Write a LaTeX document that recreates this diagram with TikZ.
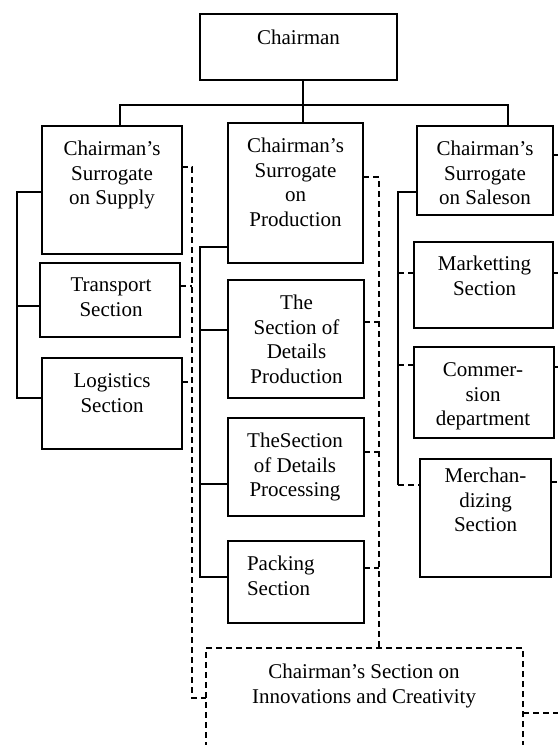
\documentclass[tikz,border=0pt]{standalone}
\usepackage{fontspec}
\setmainfont{Liberation Serif}
\begin{document}
\begin{tikzpicture}[x=1pt,y=-1pt,line width=1.5pt,
  box/.style={draw, rectangle, inner sep=0pt, outer sep=0pt},
  txt/.style={inner sep=0pt, outer sep=0pt, align=center, anchor=north,
              font=\fontsize{21}{24.5}\selectfont},
  dsh/.style={dash pattern=on 6pt off 4pt}]
\useasboundingbox (0,0) rectangle (558,745);
\clip (0,0) rectangle (558,745);

% ---------- boxes ----------
\node[box, minimum width=197pt, minimum height=66pt]  (chair)     at (298.5,47)  {};
\node[box, minimum width=140pt, minimum height=128pt] (supply)    at (112,190)   {};
\node[box, minimum width=135pt, minimum height=140pt] (prod)      at (295.5,193) {};
\node[box, minimum width=136pt, minimum height=89pt]  (sales)     at (485,170.5) {};
\node[box, minimum width=140pt, minimum height=74pt]  (transport) at (110,300)   {};
\node[box, minimum width=140pt, minimum height=91pt]  (logistics) at (112,403.5) {};
\node[box, minimum width=136pt, minimum height=118pt] (detprod)   at (296,339)   {};
\node[box, minimum width=136pt, minimum height=98pt]  (detproc)   at (296,467)   {};
\node[box, minimum width=136pt, minimum height=82pt]  (packing)   at (296,582)   {};
\node[box, minimum width=139pt, minimum height=86pt]  (market)    at (483.5,285) {};
\node[box, minimum width=140pt, minimum height=91pt]  (commerce)  at (484,392.5) {};
\node[box, minimum width=131pt, minimum height=118pt] (merch)     at (485.5,518) {};
\node[box, dsh, minimum width=317pt, minimum height=152pt] (innov) at (364.5,724) {};

% ---------- labels ----------
\node[txt] (chairT)     at (298.5,30) {Chairman};
\node[txt] (supplyT)    at (112,141)  {Chairman’s\\Surrogate\\on Supply};
\node[txt] (prodT)      at (295.5,138) {Chairman’s\\Surrogate\\on\\Production};
\node[txt] (salesT)     at (485,141)  {Chairman’s\\Surrogate\\on Saleson};
\node[txt] (transportT) at (111,278)  {Transport\\Section};
\node[txt] (logisticsT) at (112,374)  {Logistics\\Section};
\node[txt] (detprodT)   at (296.5,295) {The\\Section of\\Details\\Production};
\node[txt] (detprocT)   at (295,433)  {TheSection\\of Details\\Processing};
\node[txt, anchor=north west, align=left] (packingT) at (247,556) {Packing\\Section};
\node[txt] (marketT)    at (484.5,256) {Marketting\\Section};
\node[txt] (commerceT)  at (483,363)  {Commer-\\sion\\department};
\node[txt] (merchT)     at (485.5,468) {Merchan-\\dizing\\Section};
\node[txt] (innovT)     at (364,664)  {Chairman’s Section on\\Innovations and Creativity};

% ---------- top bus ----------
\coordinate (busL) at (120,105);
\coordinate (busM) at (303,105);
\coordinate (busR) at (508,105);
\draw (busL |- supply.north) -- (busL) -- (busR) -- (busR |- sales.north);
\draw (busM |- chair.south) -- (busM |- prod.north);

% ---------- supply branch ----------
\coordinate (sA) at (17,192);
\coordinate (sB) at (17,306);
\coordinate (sC) at (17,398);
\draw (supply.west |- sA) -- (sA) -- (sC) -- (logistics.west |- sC);
\draw (sB) -- (transport.west |- sB);

% ---------- production branch ----------
\coordinate (pA) at (200,247);
\coordinate (pB) at (200,330);
\coordinate (pC) at (200,484);
\coordinate (pD) at (200,577);
\draw (prod.west |- pA) -- (pA) -- (pD) -- (packing.west |- pD);
\draw (pB) -- (detprod.west |- pB);
\draw (pC) -- (detproc.west |- pC);

% ---------- sales branch ----------
\coordinate (cA) at (398,192);
\coordinate (cB) at (398,273);
\coordinate (cC) at (398,365);
\coordinate (cD) at (398,485);
\draw (sales.west |- cA) -- (cA) -- (cD);
\draw[dsh] (cB) -- (market.west |- cB);
\draw[dsh] (cC) -- (commerce.west |- cC);
\draw[dsh] (cD) -- (merch.west |- cD);

% ---------- dashed links, supply side ----------
\coordinate (dA) at (192,167);
\coordinate (dB) at (192,286);
\coordinate (dC) at (192,382);
\coordinate (dD) at (192,698);
\draw[dsh] (supply.east |- dA) -- (dA) -- (dD) -- (innov.west |- dD);
\draw[dsh] (transport.east |- dB) -- (dB);
\draw[dsh] (logistics.east |- dC) -- (dC);

% ---------- dashed links, production side ----------
\coordinate (qA) at (379,177);
\coordinate (qB) at (379,322);
\coordinate (qC) at (379,452);
\coordinate (qD) at (379,568);
\draw[dsh] (prod.east |- qA) -- (qA) -- (qA |- innov.north);
\draw[dsh] (detprod.east |- qB) -- (qB);
\draw[dsh] (detproc.east |- qC) -- (qC);
\draw[dsh] (packing.east |- qD) -- (qD);

% ---------- dashed links, right edge ----------
\coordinate (rA) at (558,155);
\coordinate (rB) at (558,273);
\coordinate (rC) at (558,367);
\coordinate (rD) at (558,482);
\coordinate (rE) at (558,713);
\draw[dsh] (sales.east |- rA) -- (rA);
\draw[dsh] (market.east |- rB) -- (rB);
\draw[dsh] (commerce.east |- rC) -- (rC);
\draw[dsh] (merch.east |- rD) -- (rD);
\draw[dsh] (innov.east |- rE) -- (rE);
\end{tikzpicture}
\end{document}
